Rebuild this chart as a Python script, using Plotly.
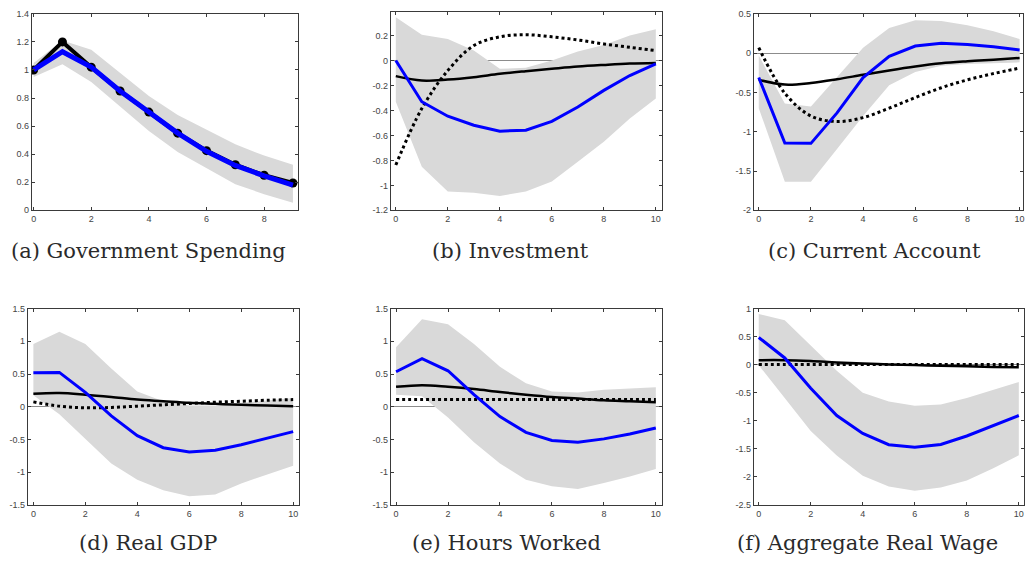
import plotly.graph_objects as go

# horizons
h9 = list(range(10))
h10 = list(range(11))

# (a) Government Spending
gov_model = [1.0, 1.2, 1.02, 0.85, 0.70, 0.55, 0.425, 0.325, 0.25, 0.195]
gov_var = [1.0, 1.13, 1.02, 0.85, 0.70, 0.55, 0.42, 0.32, 0.245, 0.18]
gov_hi = [1.05, 1.21, 1.145, 0.98, 0.815, 0.68, 0.575, 0.47, 0.39, 0.325]
gov_lo = [0.95, 1.04, 0.915, 0.74, 0.565, 0.415, 0.298, 0.186, 0.115, 0.054]

# (b) Investment
inv_var = [0.0, -0.33, -0.446, -0.518, -0.566, -0.558, -0.487, -0.372, -0.239, -0.12, -0.027]
inv_hi = [0.346, 0.207, 0.173, 0.08, -0.066, -0.058, 0.0, 0.072, 0.125, 0.2, 0.25]
inv_lo = [-0.33, -0.85, -1.05, -1.06, -1.085, -1.05, -0.97, -0.81, -0.65, -0.465, -0.305]
inv_model = [-0.125, -0.16, -0.152, -0.133, -0.106, -0.085, -0.066, -0.048, -0.035, -0.024, -0.019]
inv_alt = [-0.837, -0.385, -0.08, 0.12, 0.19, 0.207, 0.19, 0.165, 0.133, 0.106, 0.08]

# (c) Current Account
ca_var = [-0.31, -1.144, -1.148, -0.76, -0.31, -0.04, 0.09, 0.125, 0.11, 0.08, 0.04]
ca_hi = [-0.03, -0.64, -0.68, -0.30, 0.07, 0.32, 0.42, 0.41, 0.355, 0.28, 0.18]
ca_lo = [-0.70, -1.635, -1.635, -1.22, -0.80, -0.41, -0.24, -0.16, -0.137, -0.125, -0.117]
ca_model = [-0.34, -0.40, -0.38, -0.333, -0.275, -0.22, -0.17, -0.13, -0.104, -0.083, -0.062]
ca_alt = [0.07, -0.51, -0.80, -0.87, -0.82, -0.70, -0.565, -0.44, -0.34, -0.26, -0.19]

# (d) Real GDP
gdp_var = [0.52, 0.525, 0.22, -0.14, -0.44, -0.625, -0.69, -0.665, -0.58, -0.48, -0.38]
gdp_hi = [0.96, 1.145, 0.96, 0.585, 0.235, 0.085, 0.02, 0.02, 0.06, 0.10, 0.135]
gdp_lo = [0.175, -0.115, -0.49, -0.865, -1.115, -1.275, -1.365, -1.34, -1.17, -1.03, -0.90]
gdp_model = [0.20, 0.21, 0.185, 0.15, 0.11, 0.085, 0.06, 0.045, 0.03, 0.02, 0.01]
gdp_alt = [0.075, 0.01, -0.015, -0.01, 0.01, 0.03, 0.05, 0.07, 0.085, 0.10, 0.11]

# (e) Hours Worked
hrs_var = [0.535, 0.735, 0.55, 0.185, -0.15, -0.39, -0.515, -0.54, -0.49, -0.415, -0.325]
hrs_hi = [0.91, 1.335, 1.26, 0.96, 0.61, 0.36, 0.235, 0.22, 0.26, 0.285, 0.30]
hrs_lo = [0.185, 0.16, -0.165, -0.54, -0.865, -1.115, -1.215, -1.255, -1.165, -1.065, -0.95]
hrs_model = [0.305, 0.33, 0.305, 0.27, 0.225, 0.185, 0.15, 0.125, 0.10, 0.085, 0.07]
hrs_alt = [0.11, 0.11, 0.11, 0.11, 0.11, 0.11, 0.11, 0.11, 0.11, 0.11, 0.11]

# (f) Aggregate Real Wage
wage_var = [0.485, 0.12, -0.42, -0.905, -1.225, -1.425, -1.47, -1.42, -1.27, -1.09, -0.905]
wage_hi = [0.905, 0.79, 0.34, -0.11, -0.50, -0.655, -0.73, -0.71, -0.595, -0.45, -0.31]
wage_lo = [-0.01, -0.595, -1.18, -1.62, -1.98, -2.17, -2.245, -2.19, -2.065, -1.85, -1.615]
wage_model = [0.08, 0.08, 0.065, 0.04, 0.02, 0.005, -0.005, -0.02, -0.03, -0.04, -0.045]
wage_alt = [0.003, 0.003, 0.003, 0.003, 0.003, 0.003, 0.003, 0.003, 0.003, 0.003, 0.003]

captions = ["(a) Government Spending", "(b) Investment", "(c) Current Account",
            "(d) Real GDP", "(e) Hours Worked", "(f) Aggregate Real Wage"]

W, H = 1027, 567
BAND = "rgb(217,217,217)"
AXC = "#3a3a3a"

# panel boxes in pixels: left, right, top, bottom
boxes = [(31, 298, 9, 209), (391, 663, 7, 209), (755, 1025, 9, 209),
         (27, 299, 309, 509), (391, 663, 309, 509), (755, 1026, 309, 509)]
xranges = [[-0.06, 9.18], [-0.19, 10.24], [-0.19, 10.13],
           [-0.21, 10.23], [-0.2, 10.24], [-0.19, 10.2]]
yranges = [[0, 1.4], [-1.2, 0.39], [-2, 0.5], [-1.5, 1.5], [-1.5, 1.5], [-2.5, 1]]
yticks = [
    [0, 0.2, 0.4, 0.6, 0.8, 1, 1.2, 1.4],
    [-1.2, -1, -0.8, -0.6, -0.4, -0.2, 0, 0.2],
    [-2, -1.5, -1, -0.5, 0, 0.5],
    [-1.5, -1, -0.5, 0, 0.5, 1, 1.5],
    [-1.5, -1, -0.5, 0, 0.5, 1, 1.5],
    [-2.5, -2, -1.5, -1, -0.5, 0, 0.5, 1],
]
cap_pos = [(148, 250), (511, 250), (876, 250), (147, 548), (507, 548), (869, 548)]

fig = go.Figure()


def band(i, x, hi, lo):
    ax = "" if i == 0 else str(i + 1)
    fig.add_trace(go.Scatter(x=x + x[::-1], y=hi + lo[::-1], fill="toself",
                             fillcolor=BAND, line=dict(width=0), mode="lines",
                             xaxis="x" + ax, yaxis="y" + ax, hoverinfo="skip"))


def line(i, x, y, color, width, dash="solid", shape="linear", markers=False):
    ax = "" if i == 0 else str(i + 1)
    fig.add_trace(go.Scatter(x=x, y=y, mode="lines+markers" if markers else "lines",
                             line=dict(color=color, width=width, dash=dash, shape=shape),
                             marker=dict(size=9, color=color),
                             xaxis="x" + ax, yaxis="y" + ax))


# (a)
band(0, h9, gov_hi, gov_lo)
line(0, h9, gov_model, "black", 4, markers=True)
line(0, h9, gov_var, "#0000ff", 5)

panels = [
    (inv_hi, inv_lo, inv_var, inv_model, inv_alt),
    (ca_hi, ca_lo, ca_var, ca_model, ca_alt),
    (gdp_hi, gdp_lo, gdp_var, gdp_model, gdp_alt),
    (hrs_hi, hrs_lo, hrs_var, hrs_model, hrs_alt),
    (wage_hi, wage_lo, wage_var, wage_model, wage_alt),
]
for k, (hi, lo, var, model, alt) in enumerate(panels):
    i = k + 1
    band(i, h10, hi, lo)
    line(i, h10, model, "black", 2.5, shape="spline")
    line(i, h10, alt, "black", 3, dash="3px,3px", shape="spline")
    line(i, h10, var, "#0000ff", 3)

layout = dict(width=W, height=H, margin=dict(l=0, r=0, t=0, b=0),
              paper_bgcolor="white", plot_bgcolor="white", showlegend=False,
              font=dict(family="Liberation Sans, Arial", size=9, color="#444"))
for i in range(6):
    l, r, t, b = boxes[i]
    ax = "" if i == 0 else str(i + 1)
    xmax = 8 if i == 0 else 10
    layout["xaxis" + ax] = dict(
        domain=[l / W, r / W], anchor="y" + ax, range=xranges[i],
        tickvals=list(range(0, xmax + 1, 2)), ticks="inside", ticklen=3,
        tickcolor=AXC, showline=True, linecolor=AXC, linewidth=1, mirror="ticks",
        showgrid=False, zeroline=False, ticklabeloverflow="allow",
        tickfont=dict(size=9, color="#444"))
    layout["yaxis" + ax] = dict(
        domain=[1 - b / H, 1 - t / H], anchor="x" + ax, range=yranges[i],
        tickvals=yticks[i], ticktext=[f"{v:g}" for v in yticks[i]],
        ticks="inside", ticklen=3, tickcolor=AXC, showline=True,
        linecolor=AXC, linewidth=1, mirror="ticks", showgrid=False,
        zeroline=i > 0, zerolinecolor="#8c8c8c", zerolinewidth=1,
        ticklabeloverflow="allow", tickfont=dict(size=9, color="#444"))

fig.update_layout(**layout)

for (cx, cy), txt in zip(cap_pos, captions):
    fig.add_annotation(x=cx / W, y=1 - cy / H, xref="paper", yref="paper",
                       text=txt, showarrow=False, xanchor="center", yanchor="middle",
                       font=dict(family="DejaVu Serif", size=21, color="#2a2a2a"))

# drop the default page margin so the figure sits at the window's corner
fig.write_html("out.html", config={"displayModeBar": False},
               post_script="document.body.style.margin='0';")
